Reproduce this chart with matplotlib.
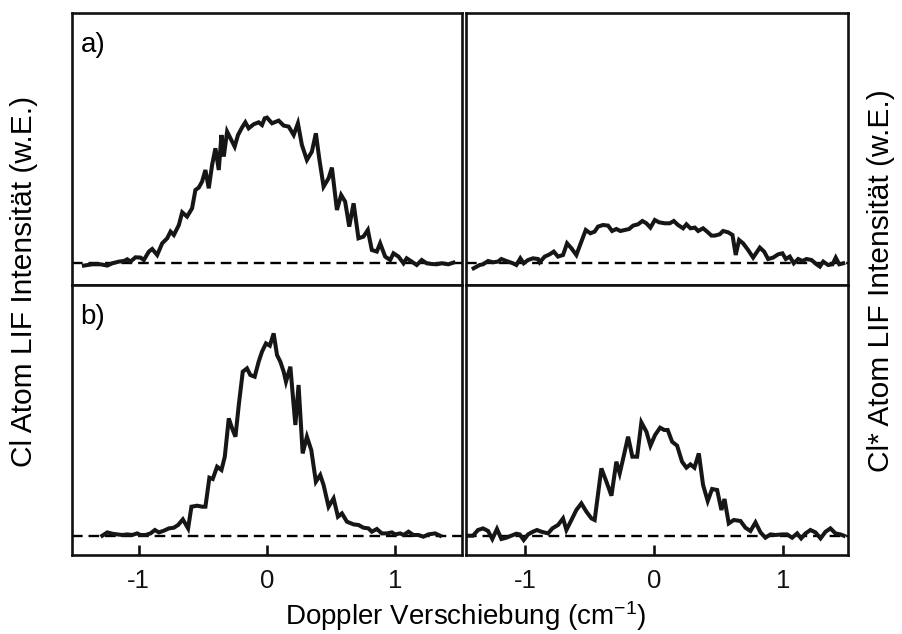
import matplotlib
matplotlib.use("Agg")
import matplotlib.pyplot as plt

plt.rcParams["font.family"] = ["Liberation Sans", "DejaVu Sans"]
plt.rcParams["mathtext.fontset"] = "custom"
plt.rcParams["mathtext.rm"] = "Liberation Sans"
plt.rcParams["mathtext.it"] = "Liberation Sans"
plt.rcParams["axes.unicode_minus"] = False

# ---- Cl (2P3/2) Doppler profile, a) ----
cl_a_shift = [-1.427, -1.362, -1.297, -1.245, -1.206, -1.154, -1.115, -1.089, -1.064, -1.025,
              -0.986, -0.960, -0.921, -0.895, -0.856, -0.817, -0.778, -0.752, -0.726, -0.687,
              -0.661, -0.623, -0.584, -0.558, -0.532, -0.506, -0.480, -0.454, -0.428, -0.402,
              -0.376, -0.355, -0.337, -0.311, -0.285, -0.252, -0.226, -0.195, -0.169, -0.143,
              -0.104, -0.065, -0.039, -0.018, 0.000, 0.039, 0.091, 0.130, 0.169, 0.208,
              0.241, 0.272, 0.311, 0.350, 0.381, 0.407, 0.441, 0.480, 0.506, 0.545,
              0.578, 0.609, 0.641, 0.675, 0.713, 0.752, 0.786, 0.817, 0.856, 0.882,
              0.921, 0.960, 0.986, 1.025, 1.064, 1.089, 1.128, 1.167, 1.206, 1.245,
              1.284, 1.323, 1.362, 1.414, 1.453]
cl_a_signal = [-2.3, -1.0, -1.0, -2.3, 0.0, 1.7, 2.3, 4.0, 1.7, 6.0,
               5.7, 3.3, 11.7, 14.3, 8.3, 20.0, 25.0, 31.7, 28.3, 38.3,
               51.0, 46.7, 55.0, 73.3, 75.7, 81.7, 93.3, 75.0, 98.3, 115.0,
               93.3, 128.3, 106.7, 131.7, 125.0, 116.7, 128.3, 135.7, 141.0, 135.0,
               139.0, 141.0, 138.3, 145.0, 145.7, 140.0, 142.7, 137.7, 136.7, 128.3,
               140.0, 118.3, 103.3, 111.7, 130.0, 105.0, 76.7, 85.0, 95.7, 53.3,
               68.3, 61.7, 36.7, 60.0, 25.0, 26.7, 33.3, 13.3, 11.7, 20.0,
               6.7, 3.3, 10.0, 6.7, 0.0, 5.0, 1.7, -1.7, 3.3, 0.0,
               -0.7, -1.0, 0.0, -1.0, 0.7]

# ---- Cl* (2P1/2) Doppler profile, a) ----
cls_a_shift = [-1.401, -1.354, -1.328, -1.289, -1.250, -1.212, -1.186, -1.147, -1.096, -1.070,
               -1.039, -1.013, -0.979, -0.941, -0.902, -0.889, -0.850, -0.811, -0.780, -0.747,
               -0.708, -0.677, -0.643, -0.605, -0.566, -0.532, -0.496, -0.463, -0.437, -0.398,
               -0.359, -0.328, -0.295, -0.264, -0.230, -0.196, -0.165, -0.127, -0.093, -0.062,
               -0.031, 0.003, 0.036, 0.080, 0.119, 0.150, 0.183, 0.222, 0.248, 0.279,
               0.313, 0.339, 0.377, 0.408, 0.442, 0.468, 0.506, 0.532, 0.571, 0.605,
               0.630, 0.656, 0.687, 0.726, 0.765, 0.817, 0.850, 0.881, 0.920, 0.959,
               0.992, 1.018, 1.049, 1.080, 1.114, 1.147, 1.178, 1.217, 1.256, 1.282,
               1.308, 1.346, 1.380, 1.405, 1.432, 1.463]
cls_a_signal = [-5.0, -1.7, -1.0, 2.3, 1.0, 1.7, 4.3, 2.3, 0.0, -1.7,
                5.0, 0.0, 3.3, 5.0, 4.3, 1.0, 6.7, 9.0, 11.7, 6.7,
                8.3, 20.0, 15.0, 8.3, 21.7, 33.3, 30.0, 31.7, 36.7, 38.3,
                37.7, 32.3, 34.3, 32.3, 33.3, 34.3, 37.7, 39.0, 42.3, 40.0,
                35.7, 43.3, 41.0, 40.0, 40.0, 42.3, 38.3, 35.0, 39.0, 35.0,
                35.7, 32.3, 35.0, 31.7, 27.7, 27.7, 29.0, 32.3, 31.0, 28.3,
                8.3, 23.3, 20.0, 13.3, 5.7, 15.7, 11.7, 4.3, 5.7, 9.0,
                10.0, 4.3, 6.7, 0.0, 4.3, 2.3, 4.3, 3.3, -1.0, -3.3,
                1.7, -1.7, -1.0, 5.7, -1.0, 0.0]

# ---- Cl (2P3/2) Doppler profile, b) ----
cl_b_shift = [-1.284, -1.245, -1.206, -1.167, -1.128, -1.089, -1.051, -1.012, -0.986, -0.947,
              -0.908, -0.874, -0.843, -0.804, -0.765, -0.726, -0.693, -0.656, -0.615, -0.589,
              -0.545, -0.506, -0.480, -0.449, -0.423, -0.389, -0.355, -0.329, -0.298, -0.272,
              -0.246, -0.220, -0.189, -0.156, -0.130, -0.096, -0.065, -0.039, -0.008, 0.022,
              0.052, 0.078, 0.104, 0.130, 0.148, 0.182, 0.221, 0.246, 0.278, 0.311,
              0.345, 0.381, 0.415, 0.441, 0.480, 0.519, 0.553, 0.584, 0.623, 0.675,
              0.713, 0.752, 0.791, 0.817, 0.856, 0.895, 0.934, 0.973, 0.999, 1.038,
              1.064, 1.103, 1.141, 1.180, 1.219, 1.258, 1.310, 1.349]
cl_b_signal = [0.0, 3.3, 2.0, 1.3, 0.7, 1.3, 0.7, 2.3, 0.7, 0.7,
               2.3, 5.7, 3.3, 5.0, 7.3, 8.0, 10.7, 16.3, 7.3, 29.0,
               30.0, 29.0, 29.0, 58.0, 56.7, 69.0, 65.7, 79.0, 117.3, 107.3,
               99.0, 130.7, 164.0, 167.3, 160.7, 159.0, 174.0, 184.0, 192.3, 190.0,
               202.3, 180.7, 174.0, 164.0, 154.0, 169.0, 110.7, 150.7, 82.3, 99.0,
               85.7, 54.0, 60.7, 50.7, 29.0, 37.3, 19.0, 22.3, 14.0, 11.3,
               10.7, 8.0, 7.3, 4.0, 6.7, 2.3, 2.3, 3.3, 1.3, 2.3,
               0.7, 4.0, 0.7, 0.7, -1.0, 1.3, 2.3, 0.0]

# ---- Cl* (2P1/2) Doppler profile, b) ----
cls_b_shift = [-1.444, -1.406, -1.367, -1.328, -1.289, -1.256, -1.220, -1.186, -1.147, -1.109,
               -1.070, -1.044, -1.013, -0.979, -0.941, -0.910, -0.876, -0.824, -0.791, -0.747,
               -0.708, -0.682, -0.643, -0.605, -0.566, -0.527, -0.488, -0.463, -0.411, -0.372,
               -0.333, -0.295, -0.269, -0.243, -0.204, -0.171, -0.134, -0.101, -0.062, -0.031,
               0.005, 0.044, 0.076, 0.103, 0.137, 0.176, 0.214, 0.248, 0.279, 0.310,
               0.344, 0.377, 0.413, 0.447, 0.486, 0.519, 0.543, 0.576, 0.615, 0.667,
               0.705, 0.744, 0.783, 0.822, 0.860, 0.899, 0.938, 0.990, 1.028, 1.067,
               1.106, 1.137, 1.171, 1.209, 1.248, 1.287, 1.326, 1.364, 1.403, 1.442,
               1.467]
cls_b_signal = [0.0, 0.0, 5.7, 7.3, 4.7, -3.3, 6.7, -3.3, -2.0, 0.0,
                2.0, 1.3, -4.3, 1.3, 4.0, 5.7, 4.0, 2.3, 7.3, 10.7,
                17.3, 5.7, 15.7, 25.7, 32.3, 24.0, 17.3, 15.7, 67.3, 54.0,
                40.0, 74.0, 62.3, 76.7, 99.0, 79.0, 79.0, 113.3, 104.0, 90.0,
                100.7, 108.0, 105.7, 105.7, 94.0, 90.0, 74.0, 68.0, 71.3, 68.0,
                82.3, 50.7, 34.7, 46.7, 45.7, 25.7, 36.7, 12.3, 15.7, 14.7,
                8.0, 4.7, 13.3, 3.3, -2.0, 1.3, 0.7, 1.3, 1.3, -2.0,
                2.3, -2.7, 2.3, 5.7, 3.3, -2.7, 4.0, 7.3, 2.3, 1.3,
                0.0]

tick_values = [-1, 0, 1]
tick_labels = ["-1", "0", "1"]
panel_labels = ["a)", "b)"]

fig = plt.figure(figsize=(9.02, 6.34), dpi=100)
W, H = 902.0, 634.0

def axes_at(x0, x1, y0, y1):
    return fig.add_axes([x0 / W, 1 - y1 / H, (x1 - x0) / W, (y1 - y0) / H])

ax_a_cl = axes_at(72, 462, 13, 285)
ax_a_cls = axes_at(466, 848, 13, 285)
ax_b_cl = axes_at(72, 462, 285, 555)
ax_b_cls = axes_at(466, 848, 285, 555)

line_kw = dict(color="#161616", lw=2.9, solid_joinstyle="miter")

panels = [
    (ax_a_cl, cl_a_shift, cl_a_signal, (-1.52, 1.52), (-21.7, 250.3), False),
    (ax_a_cls, cls_a_shift, cls_a_signal, (-1.46, 1.50), (-21.7, 250.3), False),
    (ax_b_cl, cl_b_shift, cl_b_signal, (-1.52, 1.52), (-19.3, 250.7), True),
    (ax_b_cls, cls_b_shift, cls_b_signal, (-1.46, 1.50), (-19.3, 250.7), True),
]

for ax, xs, ys, xl, yl, show_ticks in panels:
    ax.axhline(0, color="black", lw=1.7, ls=(0, (4.5, 2.5)), zorder=1)
    ax.plot(xs, ys, zorder=2, **line_kw)
    ax.set_xlim(*xl)
    ax.set_ylim(*yl)
    ax.set_yticks([])
    for sp in ax.spines.values():
        sp.set_linewidth(1.9)
        sp.set_color("#111111")
    if show_ticks:
        ax.set_xticks(tick_values)
        ax.set_xticklabels(tick_labels)
        ax.tick_params(axis="x", direction="in", length=7, width=1.9,
                       labelsize=18.5, pad=10, colors="#111111")
    else:
        ax.set_xticks([])

ax_a_cl.text(0.022, 0.93, panel_labels[0], transform=ax_a_cl.transAxes,
             fontsize=20, va="top", ha="left")
ax_b_cl.text(0.022, 0.93, panel_labels[1], transform=ax_b_cl.transAxes,
             fontsize=20, va="top", ha="left")

fig.text(466 / W, 1 - 616 / H, r"Doppler Verschiebung (cm$^{-1}$)",
         fontsize=20, ha="center", va="center")
fig.text(24 / W, 1 - 281 / H, "Cl Atom LIF Intensität (w.E.)",
         fontsize=21.5, rotation=90, ha="center", va="center")
fig.text(881 / W, 1 - 281 / H, "Cl* Atom LIF Intensität (w.E.)",
         fontsize=21.5, rotation=90, ha="center", va="center")

fig.savefig("out.png", dpi=100)
